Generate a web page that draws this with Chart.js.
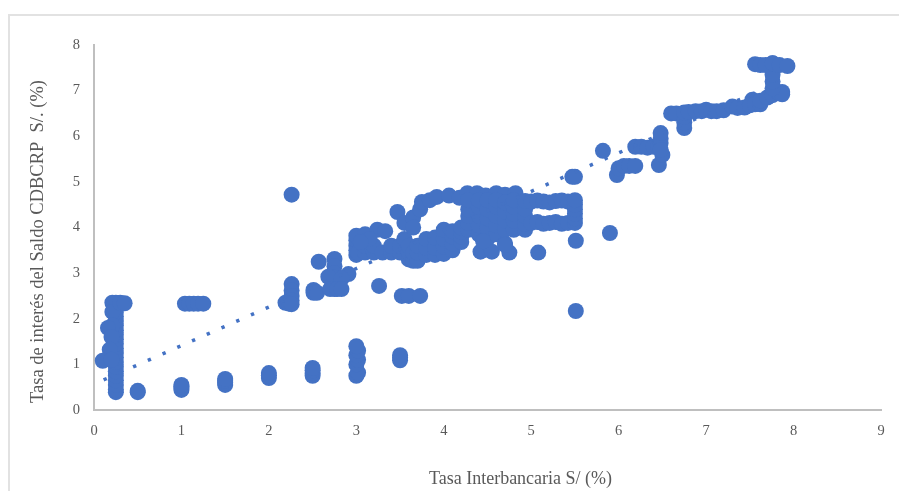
<!DOCTYPE html>
<html><head><meta charset="utf-8">
<style>
html,body{margin:0;padding:0;background:#fff;width:899px;height:491px;overflow:hidden}
#frame{position:absolute;left:8px;top:14px;width:900px;height:490px;border:2px solid #e2e2e2;box-sizing:border-box}
#wrap{position:absolute;left:0;top:0;width:899px;height:491px}
canvas{filter:blur(0.4px)}
</style>
<script src="https://cdn.jsdelivr.net/npm/chart.js@4"></script>
</head><body>
<div id="frame"></div>
<div id="wrap"><canvas id="c" width="899" height="491"></canvas></div>
<script>
const xTicks=[0,1,2,3,4,5,6,7,8,9];
const yTicks=[0,1,2,3,4,5,6,7,8];
const xTitle="Tasa Interbancaria S/ (%)";
const yTitle="Tasa de interés del Saldo CDBCRP  S/. (%)";
const trendX=[0.11,7.65];
const trendY=[0.66,7.03];

const lowX=[0.25,0.25,0.25,0.25,0.25,0.25,0.25,0.25,0.25,0.25,0.25,0.25,0.25,0.25,0.25,0.25,0.25,0.25,0.25,0.25,0.25,0.21,0.21,0.3,0.35,0.21,0.16,0.2,0.18,0.1,0.2,0.5,0.5,1,1,1,1,1.5,1.5,1.5,1.5,2,2,2,2.5,2.5,2.5,2.5,3,3.02,3,3.02,3,3.02,3,3.5,3.5,3.5,5.51];
const lowY=[0.39,0.45,0.55,0.65,0.75,0.85,0.95,1.05,1.15,1.25,1.35,1.45,1.55,1.65,1.75,1.85,1.95,2.05,2.15,2.25,2.35,2.35,2.15,2.35,2.34,1.85,1.8,1.6,1.32,1.08,1.1,0.42,0.39,0.44,0.48,0.52,0.55,0.55,0.6,0.64,0.68,0.7,0.76,0.81,0.75,0.81,0.87,0.92,0.75,0.82,1,1.1,1.2,1.3,1.4,1.09,1.15,1.2,2.17];
const midX=[1.04,1.09,1.14,1.19,1.25,2.26,2.26,2.26,2.26,2.26,2.19,2.23,2.26,2.51,2.51,2.55,2.57,2.75,2.75,2.75,2.75,2.75,2.75,2.68,2.91,2.83,2.7,2.78,2.83,3.26,3.52,3.6,3.73];
const midY=[2.33,2.33,2.33,2.33,2.33,4.72,2.76,2.62,2.5,2.4,2.35,2.33,2.32,2.63,2.57,2.57,3.25,3.31,3.15,3,2.9,2.8,2.65,2.92,2.98,2.88,2.65,2.65,2.65,2.72,2.5,2.5,2.5];
const bandX=[3,3,3,3,3,3.02,3.1,3.1,3.1,3.2,3.2,3.24,3.3,3.33,3.4,3.4,3.47,3.5,3.5,3.55,3.55,3.6,3.6,3.6,3.65,3.65,3.65,3.7,3.7,3.7,3.73,3.8,3.8,3.8,3.9,3.9,3.9,4,4,4,4,4.1,4.1,4.1,4.1,4.2,4.2,4.2,4.2,3.65,3.75,3.84,3.92,4.06,4.18,4.27,4.38,4.48,4.6,4.7,4.82,3.15,3.05];
const bandY=[3.4,3.5,3.6,3.72,3.82,3.45,3.45,3.6,3.85,3.45,3.6,3.95,3.45,3.92,3.45,3.6,4.34,3.45,3.6,3.75,4.1,3.3,3.45,3.6,3.27,3.45,4.22,3.27,3.45,3.6,4.4,3.4,3.55,3.75,3.4,3.55,3.78,3.42,3.58,3.75,3.95,3.5,3.65,3.8,3.92,3.68,3.8,3.9,4,4.0,4.56,4.6,4.67,4.7,4.65,4.75,4.75,4.7,4.75,4.72,4.75,3.75,3.68];
const blockX=[4.28,4.28,4.28,4.28,4.28,4.4,4.4,4.4,4.4,4.4,4.5,4.5,4.5,4.5,4.5,4.6,4.6,4.6,4.6,4.6,4.7,4.7,4.7,4.7,4.7,4.8,4.8,4.8,4.8,4.8,4.93,4.93,4.93,4.93,4.93,4.42,4.55,4.45,4.75,4.7,5.08];
const blockY=[3.95,4.1,4.25,4.4,4.6,3.85,4.05,4.25,4.45,4.6,3.75,4,4.2,4.4,4.6,3.85,4.05,4.25,4.45,4.6,3.65,3.95,4.15,4.35,4.55,3.95,4.15,4.3,4.45,4.6,3.95,4.08,4.25,4.4,4.58,3.47,3.47,3.7,3.45,3.62,3.45];
const rowX=[5,5.07,5.14,5.21,5.28,5.35,5.42,5,5.07,5.14,5.21,5.28,5.35,5.42,5.5,5.5,5.5,5.5,5.5,5.5,5.51,5.47,5.5,5.82,5.9];
const rowY=[4.1,4.12,4.08,4.1,4.12,4.08,4.1,4.57,4.59,4.57,4.55,4.58,4.59,4.57,4.1,4.2,4.3,4.4,4.5,4.6,3.71,5.11,5.11,5.68,3.88];
const highX=[5.98,6,6.06,6.12,6.19,6.19,6.26,6.33,6.4,6.45,6.48,6.48,6.48,6.46,6.5,6.48,6.6,6.66,6.75,6.75,6.75,6.75,6.8,6.88,6.95,7,7.06,7.12,7.2,7.3,7.36,7.44,7.53,7.53,7.5,7.56,7.62,7.62,7.7,7.76,7.82,7.87,7.87,7.76,7.76,7.76,7.76,7.56,7.62,7.68,7.76,7.84,7.93];
const highY=[5.15,5.3,5.35,5.35,5.35,5.77,5.77,5.75,5.77,5.77,5.85,5.95,6.07,5.37,5.59,5.7,6.5,6.5,6.18,6.3,6.42,6.52,6.53,6.55,6.55,6.58,6.55,6.55,6.57,6.65,6.62,6.63,6.8,6.72,6.68,6.7,6.7,6.78,6.85,6.9,6.97,6.97,6.92,7.05,7.2,7.35,7.6,7.58,7.56,7.56,7.6,7.56,7.54];

const allX=[...lowX,...midX,...bandX,...blockX,...rowX,...highX];
const allY=[...lowY,...midY,...bandY,...blockY,...rowY,...highY];
const toPts=(a,b)=>a.map((v,i)=>({x:v,y:b[i]}));

const grey='#595959', axisGrey='#bfbfbf', serif='"Liberation Serif", serif';
function shiftTitle(s,dx,dy){
  const d=Object.getPrototypeOf(s).drawTitle;
  s.drawTitle=function(){this.ctx.save();this.ctx.translate(dx,dy);d.call(this);this.ctx.restore();};
}
new Chart(document.getElementById('c'),{
  type:'scatter',
  data:{datasets:[
    {type:'line',data:toPts(trendX,trendY),borderColor:'#4472c4',borderWidth:3.5,borderDash:[3.4,12.7],pointRadius:0,fill:false,order:0},
    {data:toPts(allX,allY),backgroundColor:'#4472c4',borderColor:'#4472c4',pointRadius:8,pointBorderWidth:0,order:1}
  ]},
  options:{
    responsive:false,animation:false,
    layout:{padding:{left:0,top:45,right:18,bottom:0}},
    plugins:{legend:{display:false},tooltip:{enabled:false}},
    scales:{
      x:{type:'linear',min:0,max:9,
        afterBuildTicks:s=>{s.ticks=xTicks.map(v=>({value:v}))},
        afterFit:s=>{s.height=81;shiftTitle(s,33,-1)},
        grid:{display:false,drawTicks:false},
        border:{color:axisGrey,width:2},
        ticks:{color:grey,font:{family:serif,size:14.5},padding:12,maxRotation:0},
        title:{display:true,text:xTitle,color:grey,font:{family:serif,size:18},padding:{top:24,bottom:0}}},
      y:{type:'linear',min:0,max:8,
        afterBuildTicks:s=>{s.ticks=yTicks.map(v=>({value:v}))},
        afterFit:s=>{s.width=94;shiftTitle(s,27,14)},
        grid:{display:false,drawTicks:false},
        border:{color:axisGrey,width:2},
        ticks:{color:grey,font:{family:serif,size:14.5},padding:14},
        title:{display:true,text:yTitle,color:grey,font:{family:serif,size:18.5},padding:{top:0,bottom:0}}}
    }
  }
});
</script>
</body></html>
